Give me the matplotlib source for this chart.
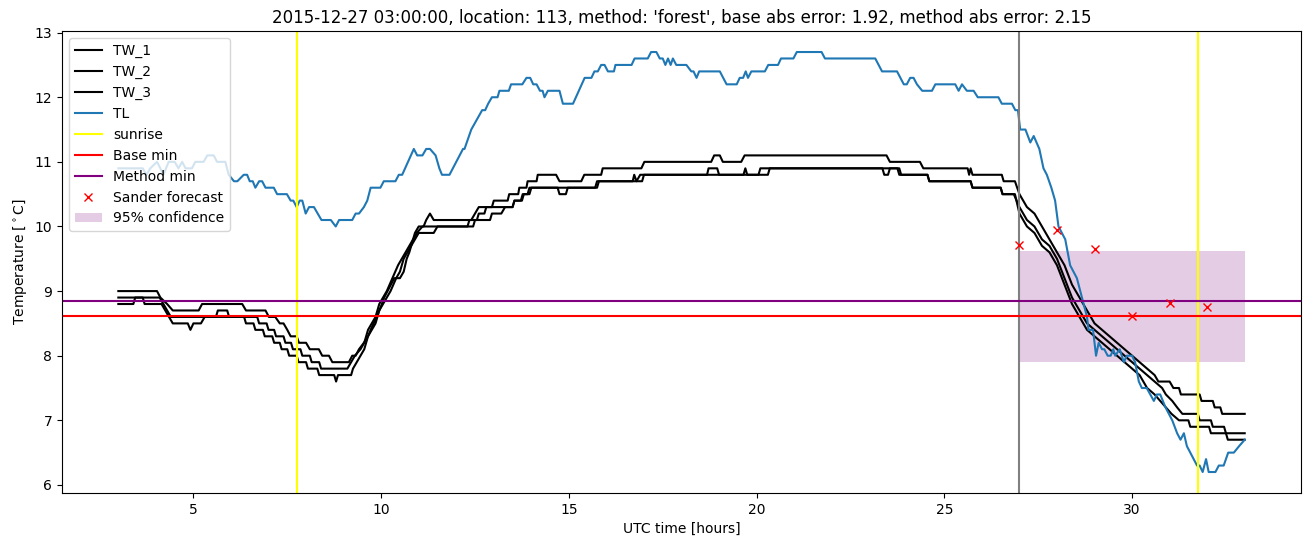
import numpy as np
import matplotlib
matplotlib.use("Agg")
import matplotlib.pyplot as plt

# (hour, temperature) breakpoints
tw1 = [(3.0, 9.0), (4.03, 9.0), (4.12, 8.9), (4.3, 8.8), (4.45, 8.7), (5.14, 8.7), (5.23, 8.8),
       (6.3, 8.8), (6.4, 8.7), (6.92, 8.7), (7.01, 8.6), (7.18, 8.6), (7.3, 8.5), (7.4, 8.5),
       (7.5, 8.4), (7.59, 8.3), (7.75, 8.3), (7.81, 8.2), (8.0, 8.2), (8.1, 8.1), (8.34, 8.1),
       (8.43, 8.0), (8.61, 8.0), (8.7, 7.9), (9.14, 7.9), (9.23, 8.0), (9.32, 8.0), (9.41, 8.1),
       (9.54, 8.2), (9.65, 8.3), (9.72, 8.4), (9.8, 8.5), (9.88, 8.6), (9.95, 8.7), (10.02, 8.8),
       (10.08, 8.9), (10.17, 9.0), (10.26, 9.1), (10.35, 9.2), (10.5, 9.2), (10.6, 9.3),
       (10.68, 9.5), (10.75, 9.6), (10.8, 9.7), (10.9, 9.9), (11.0, 10.0), (11.13, 10.0),
       (11.2, 10.1), (11.3, 10.2), (11.4, 10.1), (12.4, 10.1), (12.5, 10.2), (12.6, 10.3),
       (12.95, 10.3), (13.0, 10.4), (13.37, 10.4), (13.41, 10.5), (13.65, 10.5), (13.68, 10.6),
       (13.87, 10.6), (13.9, 10.7), (14.14, 10.7), (14.17, 10.8), (14.66, 10.8), (14.75, 10.7),
       (15.33, 10.7), (15.41, 10.8), (15.86, 10.8), (15.9, 10.9), (16.93, 10.9), (17.01, 11.0),
       (18.79, 11.0), (18.87, 11.1), (19.02, 11.1), (19.1, 11.0), (19.59, 11.0), (19.68, 11.1),
       (23.46, 11.1), (23.55, 11.0), (24.35, 11.0), (24.44, 10.9), (25.62, 10.9), (25.66, 10.8),
       (25.7, 10.9), (25.75, 10.8), (26.53, 10.8), (26.58, 10.7), (26.88, 10.7), (27.0, 10.5),
       (27.2, 10.3), (27.4, 10.2), (27.6, 10.0), (27.8, 9.8), (28.0, 9.6), (28.2, 9.4),
       (28.4, 9.1), (28.6, 8.9), (28.8, 8.7), (29.0, 8.5), (29.2, 8.4), (29.4, 8.3), (29.6, 8.2),
       (29.8, 8.1), (30.0, 8.0), (30.2, 7.9), (30.4, 7.8), (30.6, 7.7), (30.7, 7.6), (31.0, 7.6),
       (31.1, 7.5), (31.25, 7.5), (31.3, 7.4), (31.8, 7.4), (31.85, 7.3), (32.15, 7.3),
       (32.2, 7.2), (32.35, 7.2), (32.4, 7.1), (33.0, 7.1)]

tw2 = [(3.0, 8.9), (4.1, 8.9), (4.2, 8.8), (4.3, 8.7), (4.4, 8.6), (5.6, 8.6), (5.65, 8.7),
       (5.9, 8.7), (5.95, 8.6), (6.7, 8.6), (6.75, 8.5), (6.95, 8.5), (7.0, 8.4), (7.15, 8.4),
       (7.2, 8.3), (7.4, 8.3), (7.45, 8.2), (7.6, 8.2), (7.65, 8.1), (7.85, 8.1), (7.9, 8.0),
       (8.1, 8.0), (8.15, 7.9), (8.35, 7.9), (8.4, 7.8), (9.1, 7.8), (9.2, 7.9), (9.3, 8.0),
       (9.45, 8.1), (9.55, 8.2), (9.65, 8.4), (9.75, 8.5), (9.85, 8.6), (9.95, 8.8), (10.05, 8.9),
       (10.15, 9.0), (10.3, 9.2), (10.45, 9.4), (10.55, 9.5), (10.65, 9.6), (10.75, 9.7),
       (10.85, 9.8), (10.95, 9.9), (11.1, 10.0), (12.3, 10.0), (12.35, 10.1), (12.55, 10.1),
       (12.6, 10.2), (12.75, 10.2), (12.8, 10.3), (13.5, 10.3), (13.55, 10.4), (13.72, 10.4),
       (13.77, 10.5), (13.9, 10.5), (13.95, 10.6), (15.7, 10.6), (15.75, 10.7), (16.7, 10.7),
       (16.74, 10.8), (16.8, 10.7), (16.9, 10.8), (18.68, 10.8), (18.72, 10.9), (18.95, 10.9),
       (19.0, 10.8), (20.05, 10.8), (20.1, 10.9), (23.35, 10.9), (23.4, 10.8), (23.5, 10.8),
       (23.55, 10.9), (23.75, 10.9), (23.8, 10.8), (24.55, 10.8), (24.6, 10.7), (25.7, 10.7),
       (25.75, 10.6), (26.5, 10.6), (26.55, 10.5), (26.85, 10.5), (27.0, 10.3), (27.2, 10.1),
       (27.4, 10.0), (27.6, 9.8), (27.8, 9.7), (28.0, 9.5), (28.2, 9.2), (28.4, 8.9), (28.6, 8.7),
       (28.8, 8.5), (29.0, 8.4), (29.2, 8.3), (29.4, 8.2), (29.6, 8.1), (29.8, 8.0), (30.0, 7.9),
       (30.2, 7.8), (30.4, 7.7), (30.6, 7.6), (30.8, 7.5), (30.9, 7.4), (31.07, 7.3), (31.2, 7.2),
       (31.34, 7.1), (31.75, 7.1), (31.8, 7.0), (32.1, 7.0), (32.15, 6.9), (32.45, 6.9),
       (32.5, 6.8), (33.0, 6.8)]

tw3 = [(3.0, 8.8), (3.4, 8.8), (3.45, 8.9), (3.65, 8.9), (3.7, 8.8), (4.15, 8.8), (4.25, 8.7),
       (4.35, 8.6), (4.45, 8.5), (4.85, 8.5), (4.92, 8.4), (5.0, 8.5), (5.2, 8.5), (5.3, 8.6),
       (6.35, 8.6), (6.4, 8.5), (6.6, 8.5), (6.65, 8.4), (6.85, 8.4), (6.9, 8.3), (7.1, 8.3),
       (7.15, 8.2), (7.3, 8.2), (7.35, 8.1), (7.5, 8.1), (7.55, 8.0), (7.75, 8.0), (7.8, 7.9),
       (8.0, 7.9), (8.05, 7.8), (8.3, 7.8), (8.35, 7.7), (8.75, 7.7), (8.8, 7.6), (8.85, 7.7),
       (9.2, 7.7), (9.25, 7.8), (9.35, 7.9), (9.45, 8.0), (9.55, 8.1), (9.65, 8.3), (9.75, 8.4),
       (9.85, 8.5), (9.95, 8.7), (10.05, 8.8), (10.15, 8.9), (10.25, 9.0), (10.4, 9.2),
       (10.5, 9.3), (10.6, 9.5), (10.7, 9.6), (10.8, 9.7), (10.9, 9.8), (11.0, 9.9), (11.4, 9.9),
       (11.5, 10.0), (12.45, 10.0), (12.5, 10.1), (12.9, 10.1), (12.95, 10.2), (13.2, 10.2),
       (13.3, 10.3), (13.5, 10.3), (13.55, 10.4), (13.75, 10.4), (13.8, 10.5), (13.95, 10.5),
       (14.0, 10.6), (14.7, 10.6), (14.75, 10.5), (14.92, 10.5), (14.97, 10.6), (15.75, 10.6),
       (15.8, 10.7), (16.95, 10.7), (17.0, 10.8), (19.65, 10.8), (19.7, 10.9), (19.75, 10.8),
       (20.3, 10.8), (20.35, 10.9), (23.8, 10.9), (23.85, 10.8), (24.55, 10.8), (24.6, 10.7),
       (25.7, 10.7), (25.75, 10.6), (26.5, 10.6), (26.55, 10.5), (26.88, 10.5), (27.0, 10.2),
       (27.2, 10.0), (27.4, 9.9), (27.6, 9.7), (27.8, 9.6), (28.0, 9.4), (28.2, 9.1), (28.4, 8.8),
       (28.6, 8.6), (28.8, 8.4), (29.0, 8.3), (29.2, 8.2), (29.4, 8.1), (29.6, 8.0), (29.8, 7.9),
       (30.0, 7.8), (30.2, 7.7), (30.4, 7.5), (30.6, 7.4), (30.75, 7.3), (30.9, 7.2),
       (31.05, 7.1), (31.25, 7.0), (31.5, 7.0), (31.55, 6.9), (32.05, 6.9), (32.1, 6.8),
       (32.5, 6.8), (32.55, 6.7), (33.0, 6.7)]

tl = [(3.0, 10.9), (3.65, 10.9), (3.75, 10.8), (3.85, 10.9), (4.03, 11.0), (4.12, 10.9),
      (4.2, 10.8), (4.34, 11.0), (4.5, 11.0), (4.6, 10.9), (4.7, 11.0), (4.79, 10.9), (4.96, 10.9),
      (5.05, 11.0), (5.27, 11.0), (5.37, 11.1), (5.54, 11.1), (5.63, 11.0), (5.85, 11.0),
      (5.94, 10.8), (6.08, 10.7), (6.17, 10.7), (6.34, 10.8), (6.43, 10.8), (6.5, 10.7),
      (6.58, 10.7), (6.65, 10.6), (6.75, 10.7), (6.83, 10.7), (6.92, 10.6), (7.14, 10.6),
      (7.23, 10.5), (7.49, 10.5), (7.59, 10.4), (7.66, 10.4), (7.75, 10.3), (7.83, 10.4),
      (7.9, 10.4), (7.99, 10.2), (8.08, 10.3), (8.21, 10.3), (8.41, 10.1), (8.66, 10.1),
      (8.79, 10.0), (8.88, 10.1), (9.23, 10.1), (9.32, 10.2), (9.41, 10.2), (9.54, 10.3),
      (9.63, 10.4), (9.72, 10.6), (9.98, 10.6), (10.07, 10.7), (10.38, 10.7), (10.47, 10.8),
      (10.56, 10.8), (10.87, 11.2), (10.96, 11.1), (11.1, 11.1), (11.2, 11.2), (11.3, 11.2),
      (11.45, 11.1), (11.55, 10.9), (11.62, 10.8), (11.82, 10.8), (12.18, 11.2), (12.22, 11.2),
      (12.4, 11.5), (12.69, 11.8), (12.77, 11.8), (12.85, 11.9), (12.95, 12.0), (13.1, 12.0),
      (13.15, 12.1), (13.4, 12.1), (13.46, 12.2), (13.76, 12.2), (13.87, 12.3), (13.97, 12.3),
      (14.05, 12.2), (14.14, 12.2), (14.23, 12.1), (14.3, 12.1), (14.35, 12.0), (14.44, 12.1),
      (14.75, 12.1), (14.84, 11.9), (15.11, 11.9), (15.42, 12.3), (15.6, 12.3), (15.68, 12.4),
      (15.77, 12.4), (15.86, 12.5), (15.95, 12.5), (16.04, 12.4), (16.2, 12.4), (16.24, 12.5),
      (16.67, 12.5), (16.75, 12.6), (17.1, 12.6), (17.19, 12.7), (17.33, 12.7), (17.42, 12.6),
      (17.5, 12.6), (17.57, 12.5), (17.64, 12.6), (17.71, 12.5), (17.77, 12.6), (17.86, 12.5),
      (18.13, 12.5), (18.26, 12.4), (18.32, 12.4), (18.4, 12.3), (18.47, 12.4), (19.02, 12.4),
      (19.11, 12.3), (19.2, 12.2), (19.47, 12.2), (19.55, 12.3), (19.64, 12.3), (19.71, 12.4),
      (19.77, 12.3), (19.86, 12.4), (20.22, 12.4), (20.31, 12.5), (20.57, 12.5), (20.65, 12.6),
      (20.98, 12.6), (21.07, 12.7), (21.73, 12.7), (21.82, 12.6), (23.16, 12.6), (23.34, 12.4),
      (23.74, 12.4), (23.92, 12.2), (24.0, 12.2), (24.09, 12.3), (24.18, 12.3), (24.27, 12.2),
      (24.41, 12.1), (24.67, 12.1), (24.76, 12.2), (25.29, 12.2), (25.38, 12.1), (25.47, 12.2),
      (25.6, 12.1), (25.78, 12.1), (25.89, 12.0), (26.44, 12.0), (26.53, 11.9), (26.8, 11.9),
      (26.89, 11.8), (26.96, 11.8), (27.02, 11.5), (27.16, 11.5), (27.29, 11.3), (27.38, 11.4),
      (27.53, 11.2), (27.64, 10.9), (27.73, 10.8), (27.85, 10.6), (27.95, 10.4), (28.04, 10.0),
      (28.22, 9.8), (28.35, 9.4), (28.53, 9.2), (28.62, 9.0), (28.71, 8.8), (28.8, 8.6),
      (28.84, 8.4), (28.96, 8.4), (29.04, 8.0), (29.11, 8.2), (29.2, 8.1), (29.26, 8.1),
      (29.35, 8.0), (29.43, 8.0), (29.5, 8.1), (29.55, 8.0), (29.67, 8.1), (29.78, 7.9),
      (29.86, 8.0), (30.0, 8.0), (30.08, 7.9), (30.18, 7.6), (30.26, 7.5), (30.39, 7.5),
      (30.58, 7.3), (30.66, 7.4), (30.75, 7.4), (30.89, 7.2), (31.07, 7.0), (31.2, 6.8),
      (31.29, 6.7), (31.38, 6.8), (31.46, 6.6), (31.55, 6.5), (31.64, 6.4), (31.73, 6.3),
      (31.8, 6.3), (31.88, 6.2), (31.97, 6.4), (32.04, 6.2), (32.22, 6.2), (32.31, 6.3),
      (32.44, 6.3), (32.56, 6.5), (32.71, 6.5), (32.85, 6.6), (33.0, 6.7)]

sunrise = [7.77, 31.75]
forecast_start = 27.0
base_min = 8.62
method_min = 8.85
sander_t = [27, 28, 29, 30, 31, 32]
sander_v = [9.71, 9.94, 9.65, 8.62, 8.82, 8.76]
conf_t = [27, 33]
conf_low = 7.91
conf_high = 9.62

fig, ax = plt.subplots(figsize=(13.11, 5.47), dpi=100)
fig.subplots_adjust(left=0.0473, right=0.9924, bottom=0.0987, top=0.9433)

for name, series in [('TW_1', tw1), ('TW_2', tw2), ('TW_3', tw3)]:
    t, v = np.array(series).T
    ax.plot(t, v, color='black', label=name)
t, v = np.array(tl).T
ax.plot(t, v, color='C0', label='TL')

ax.axvline(sunrise[0], color='yellow', label='sunrise')
ax.axvline(sunrise[1], color='yellow')
ax.axvline(forecast_start, color='gray')
ax.axhline(base_min, color='red', label='Base min')
ax.axhline(method_min, color='purple', label='Method min')
ax.plot(sander_t, sander_v, 'rx', label='Sander forecast')
ax.fill_between(conf_t, conf_low, conf_high, color='purple', alpha=0.2,
                linewidth=0, label='95% confidence')

ax.set_title("2015-12-27 03:00:00, location: 113, method: 'forest', "
             "base abs error: 1.92, method abs error: 2.15")
ax.set_xlabel('UTC time [hours]')
ax.set_ylabel(r'Temperature [$^\circ$C]')
ax.legend(loc='upper left')

fig.savefig('out.png')
